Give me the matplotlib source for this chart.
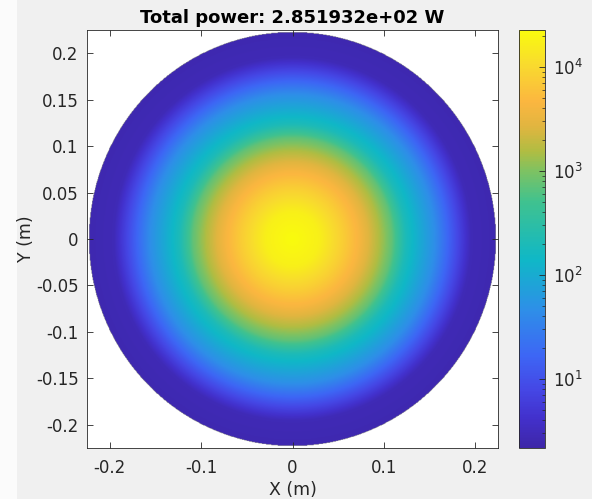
import numpy as np
import matplotlib.pyplot as plt
from matplotlib.colors import LinearSegmentedColormap, LogNorm
from matplotlib.patches import Rectangle

# radial profile: radius (m) and log10 of the power density
radius = [0.0, 0.029, 0.055, 0.073, 0.095, 0.109, 0.124, 0.156, 0.177, 0.189, 0.196, 0.225]
log_power = [4.356, 4.24, 3.90, 3.63, 3.19, 2.87, 2.30, 1.66, 1.02, 0.66, 0.45, 0.40]
disk_radius = 0.223
title = 'Total power: 2.851932e+02 W'
xticks = [-0.2, -0.1, 0, 0.1, 0.2]
xticklabels = ['-0.2', '-0.1', '0', '0.1', '0.2']
yticks = [0.2, 0.15, 0.1, 0.05, 0, -0.05, -0.1, -0.15, -0.2]
yticklabels = ['0.2', '0.15', '0.1', '0.05', '0', '-0.05', '-0.1', '-0.15', '-0.2']
cmin, cmax = 2.17, 2.27e4

# parula-like colormap
parula = LinearSegmentedColormap.from_list('parula', [
    (0.00, (0.242, 0.150, 0.660)),
    (0.07, (0.260, 0.190, 0.800)),
    (0.14, (0.270, 0.280, 0.900)),
    (0.22, (0.240, 0.400, 0.960)),
    (0.33, (0.180, 0.560, 0.910)),
    (0.45, (0.060, 0.720, 0.780)),
    (0.59, (0.250, 0.760, 0.560)),
    (0.665, (0.500, 0.760, 0.380)),
    (0.71, (0.690, 0.740, 0.260)),
    (0.77, (0.880, 0.710, 0.250)),
    (0.83, (0.985, 0.715, 0.250)),
    (0.92, (0.975, 0.860, 0.180)),
    (1.00, (0.977, 0.983, 0.054)),
], N=256)

g = np.linspace(-0.225, 0.225, 700)
X, Y = np.meshgrid(g, g)
R = np.hypot(X, Y)
Z = 10 ** np.interp(R, radius, log_power)
Z = np.ma.masked_where(R > disk_radius, Z)

plt.rcParams['font.family'] = 'DejaVu Sans'
fig = plt.figure(figsize=(5.92, 4.99), dpi=100, facecolor='#f0f0f0')
fig.patches.append(Rectangle((0, 0), 17 / 592, 1, transform=fig.transFigure,
                             facecolor='#fbfbfb', edgecolor='none', zorder=-5))

ax = fig.add_axes([87 / 592, 1 - 448 / 499, 411 / 592, 418 / 499])
ax.set_facecolor('white')
im = ax.imshow(Z, extent=(-0.225, 0.225, -0.225, 0.225), origin='lower',
               cmap=parula, norm=LogNorm(vmin=cmin, vmax=cmax),
               interpolation='bilinear', aspect='auto')
ax.set_xlim(-0.225, 0.225)
ax.set_ylim(-0.225, 0.225)
ax.set_xticks(xticks)
ax.set_xticklabels(xticklabels)
ax.set_yticks(yticks)
ax.set_yticklabels(yticklabels)
ax.tick_params(direction='in', top=True, right=True, length=4, width=0.6,
               labelsize=12, colors='#262626')
ax.tick_params(axis='x', pad=8)
ax.tick_params(axis='y', pad=6)
for s in ax.spines.values():
    s.set_color('#262626')
    s.set_linewidth(0.6)
ax.set_xlabel('X (m)', fontsize=12.5, color='#262626', labelpad=3)
ax.set_ylabel('Y (m)', fontsize=12.5, color='#262626', labelpad=1)
ax.set_title(title, fontsize=13, fontweight='bold', pad=5)

cax = fig.add_axes([519 / 592, 1 - 448 / 499, 26 / 592, 418 / 499])
cb = fig.colorbar(im, cax=cax)
cb.outline.set_edgecolor('#262626')
cb.outline.set_linewidth(0.6)
cax.tick_params(which='major', direction='in', length=4, width=0.6,
                labelsize=12, colors='#262626', pad=6)
cax.tick_params(which='minor', direction='in', length=2, width=0.5, colors='#262626')

fig.savefig('out.png', dpi=100, facecolor=fig.get_facecolor())
